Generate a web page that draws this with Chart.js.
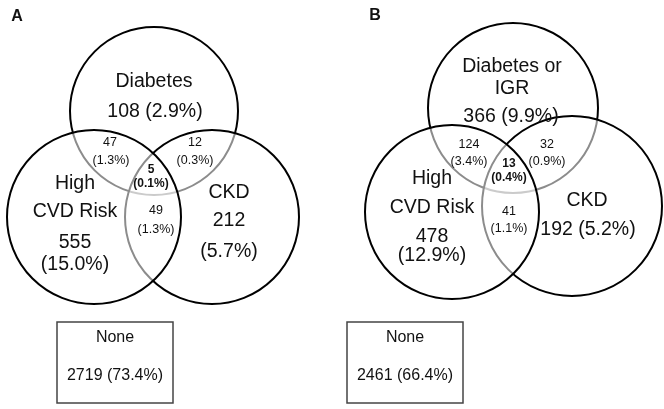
<!DOCTYPE html>
<html>
<head>
<meta charset="utf-8">
<script src="https://cdn.jsdelivr.net/npm/chart.js@4.4.1/dist/chart.umd.min.js"></script>
<style>
  html, body { margin: 0; padding: 0; background: #fff; }
  #wrap { width: 664px; height: 409px; }
</style>
</head>
<body>
<div id="wrap"><canvas id="venn"></canvas></div>
<script>
// Venn counts: only diabetes, only CVD, only CKD, DM+CVD, DM+CKD, CVD+CKD, all three, none
const countsA = [108, 555, 212, 47, 12, 49, 5, 2719]
const pctA = [2.9, 15.0, 5.7, 1.3, 0.3, 1.3, 0.1, 73.4]
const countsB = [366, 478, 192, 124, 32, 41, 13, 2461]
const pctB = [9.9, 12.9, 5.2, 3.4, 0.9, 1.1, 0.4, 66.4]
const panelLetters = ['A', 'B']

// circle layout (drawn in this order: diabetes, CKD, high CVD risk) for panel A then B
const circleX = [154, 212, 94, 513, 572, 452]
const circleY = [111, 217, 217, 108, 206, 212]
const circleR = [84, 87, 87, 85, 90, 87]

const pct = p => '(' + p.toFixed(1) + '%)'
const both = (n, p) => n + ' ' + pct(p)

const big = '19.5px "Liberation Sans", Arial, sans-serif'
const small = '12.5px "Liberation Sans", Arial, sans-serif'
const smallBold = 'bold 12px "Liberation Sans", Arial, sans-serif'
const boxFont = '16px "Liberation Sans", Arial, sans-serif'
const letterFont = 'bold 16px "Liberation Sans", Arial, sans-serif'

// text labels: [x, y, text, font]
const labels = [
    [17, 17, panelLetters[0], letterFont],
    [154, 82, 'Diabetes', big],
    [155, 112, both(countsA[0], pctA[0]), big],
    [110, 143, String(countsA[3]), small],
    [111, 161, pct(pctA[3]), small],
    [195, 143, String(countsA[4]), small],
    [195, 161, pct(pctA[4]), small],
    [151, 170, String(countsA[6]), smallBold],
    [151, 184, pct(pctA[6]), smallBold],
    [75, 184, 'High', big],
    [75, 212, 'CVD Risk', big],
    [75, 243, String(countsA[1]), big],
    [75, 265, pct(pctA[1]), big],
    [156, 211, String(countsA[5]), small],
    [156, 230, pct(pctA[5]), small],
    [229, 193, 'CKD', big],
    [229, 221, String(countsA[2]), big],
    [229, 252, pct(pctA[2]), big],
    [115, 338, 'None', boxFont],
    [115, 376, both(countsA[7], pctA[7]), boxFont],

    [375, 16, panelLetters[1], letterFont],
    [512, 67, 'Diabetes or', big],
    [512, 89, 'IGR', big],
    [511, 117, both(countsB[0], pctB[0]), big],
    [469, 145, String(countsB[3]), small],
    [469, 162, pct(pctB[3]), small],
    [547, 145, String(countsB[4]), small],
    [547, 162, pct(pctB[4]), small],
    [509, 164, String(countsB[6]), smallBold],
    [509, 178, pct(pctB[6]), smallBold],
    [432, 179, 'High', big],
    [432, 208, 'CVD Risk', big],
    [432, 237, String(countsB[1]), big],
    [432, 256, pct(pctB[1]), big],
    [509, 212, String(countsB[5]), small],
    [509, 229, pct(pctB[5]), small],
    [587, 201, 'CKD', big],
    [588, 230, both(countsB[2], pctB[2]), big],
    [405, 338, 'None', boxFont],
    [405, 376, both(countsB[7], pctB[7]), boxFont]
]

// "None" boxes: [left, top, right, bottom]
const boxes = [[57, 322, 173, 403], [347, 322, 463, 403]]

const circles = circleX.map((x, i) => ({x: x, y: circleY[i], r: circleR[i]}))

const vennText = {
    id: 'vennText',
    afterDatasetsDraw(chart) {
        const ctx = chart.ctx
        const xs = chart.scales.x
        const ys = chart.scales.y
        ctx.save()
        ctx.strokeStyle = '#444'
        ctx.lineWidth = 1.5
        boxes.forEach(b => {
            const l = xs.getPixelForValue(b[0])
            const t = ys.getPixelForValue(b[1])
            ctx.strokeRect(l, t, xs.getPixelForValue(b[2]) - l, ys.getPixelForValue(b[3]) - t)
        })
        ctx.fillStyle = '#111'
        ctx.textAlign = 'center'
        ctx.textBaseline = 'middle'
        labels.forEach(l => {
            ctx.font = l[3]
            ctx.fillText(l[2], xs.getPixelForValue(l[0]), ys.getPixelForValue(l[1]))
        })
        ctx.restore()
    }
}

new Chart(document.getElementById('venn'), {
    type: 'bubble',
    data: {
        datasets: [{
            data: circles,
            backgroundColor: 'rgba(255, 255, 255, 0.55)',
            borderColor: '#000',
            borderWidth: 2,
            hoverRadius: 0,
            clip: false
        }]
    },
    options: {
        responsive: true,
        maintainAspectRatio: false,
        animation: false,
        events: [],
        layout: {padding: 0, autoPadding: false},
        plugins: {legend: {display: false}, tooltip: {enabled: false}},
        scales: {
            x: {type: 'linear', display: false, min: 0, max: 664},
            y: {type: 'linear', display: false, min: 0, max: 409, reverse: true}
        }
    },
    plugins: [vennText]
})
</script>
</body>
</html>
